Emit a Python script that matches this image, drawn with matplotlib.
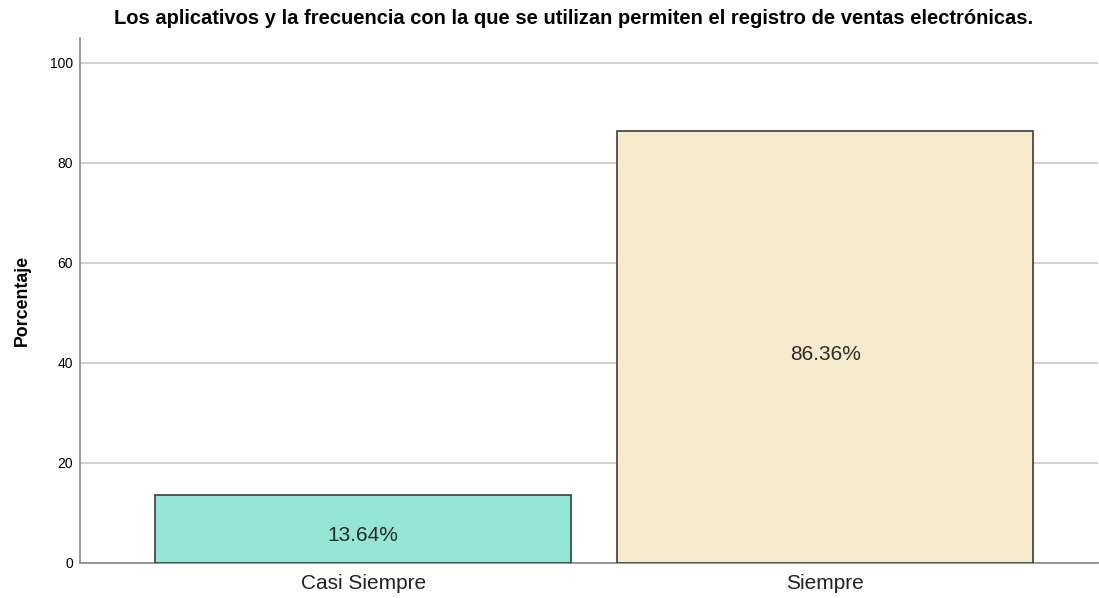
import matplotlib
matplotlib.use("Agg")
import matplotlib.pyplot as plt

categories = ["Casi Siempre", "Siempre"]
percentages = [13.64, 86.36]
bar_colors = ["#93e6d3", "#f5ebcc"]
yticks = [0, 20, 40, 60, 80, 100]

plt.rcParams["font.family"] = ["Liberation Sans", "DejaVu Sans"]

fig = plt.figure(figsize=(10.99, 5.98), dpi=100)
ax = fig.add_axes([80 / 1099, 35 / 598, 1018 / 1099, 525 / 598])

x = list(range(len(categories)))
bars = ax.bar(x, percentages, width=0.9, color=bar_colors,
              edgecolor="#3c3c3c", linewidth=1.2, zorder=3)
for b, v in zip(bars, percentages):
    ax.annotate(f"{v:.2f}%", (b.get_x() + b.get_width() / 2, v / 2),
                xytext=(0, -5), textcoords="offset points",
                ha="center", va="center", fontsize=15, color="#2a2a2a", zorder=4)

ax.set_xlim(-0.613, 1.59)
ax.set_ylim(0, 105)
ax.set_xticks(x)
ax.set_xticklabels(categories, fontsize=15, color="#222222")
ax.set_yticks(yticks)
ax.tick_params(axis="y", labelsize=10, length=0, pad=5)
ax.tick_params(axis="x", length=0, pad=8)
ax.yaxis.grid(True, color="#c8c8c8", linewidth=1.2, zorder=0)
for s in ["top", "right"]:
    ax.spines[s].set_visible(False)
for s in ["left", "bottom"]:
    ax.spines[s].set_color("#888888")
    ax.spines[s].set_linewidth(1.2)
ax.set_ylabel("Porcentaje", fontsize=12.8, fontweight="bold", labelpad=14)
fig.text(574 / 1099, 1 - 18 / 598,
         "Los aplicativos y la frecuencia con la que se utilizan permiten el registro de ventas electrónicas.",
         fontsize=14.5, fontweight="bold", ha="center", va="center")

fig.savefig("out.png", dpi=100)
